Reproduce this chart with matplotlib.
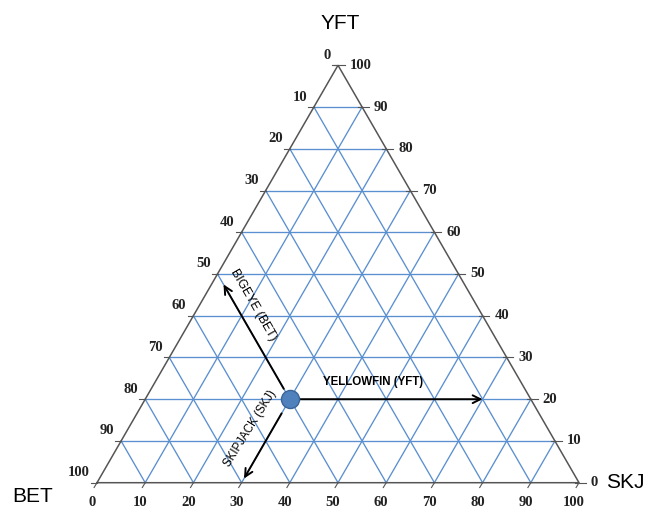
import numpy as np
import matplotlib
matplotlib.use("Agg")
import matplotlib.pyplot as plt

# -------------------- Data --------------------
corner_labels = ["BET", "SKJ", "YFT"]          # bottom-left, bottom-right, top
tick_values = [0, 10, 20, 30, 40, 50, 60, 70, 80, 90, 100]
grid_values = [10, 20, 30, 40, 50, 60, 70, 80, 90]

# example sample (percent): skipjack, yellowfin, bigeye
sample_skj, sample_yft, sample_bet = 30, 20, 50

# arrows (start -> end) in (skj, yft) percent
arrow_bet = ((27.5, 22.5), (2.5, 47.5))
arrow_skj = ((30.0, 16.6), (30.0, 1.0))
arrow_yft = ((30.0, 20.0), (70.0, 20.0))
arrow_texts = ["BIGEYE (BET)", "SKIPJACK (SKJ)", "YELLOWFIN (YFT)"]

GRID_C = "#5a8fd0"
EDGE_C = "#555555"
H = np.sqrt(3) / 2


def tern(skj, yft):
    """percent (skj, yft) -> cartesian in unit triangle"""
    skj = np.asarray(skj, float)
    yft = np.asarray(yft, float)
    return (skj + yft / 2) / 100.0, yft / 100.0 * H


# -------------------- Figure --------------------
fig = plt.figure(figsize=(6.46, 5.11), dpi=100)
ax = fig.add_axes([0, 0, 1, 1])
# 482 px per unit, BL vertex at pixel (97, 482.7)
ax.set_xlim(-97 / 482, (646 - 97) / 482)
ax.set_ylim((482.7 - 511) / 482, 482.7 / 482)
ax.axis("off")

# grid lines
for v in grid_values:
    # constant YFT
    x, y = tern([0, 100 - v], [v, v])
    ax.plot(x, y, color=GRID_C, lw=0.95, zorder=1)
    # constant SKJ
    x, y = tern([v, v], [0, 100 - v])
    ax.plot(x, y, color=GRID_C, lw=0.95, zorder=1)
    # constant BET
    x, y = tern([100 - v, 0], [0, 100 - v])
    ax.plot(x, y, color=GRID_C, lw=0.95, zorder=1)

# triangle outline
x, y = tern([0, 100, 0, 0], [0, 0, 100, 0])
ax.plot(x, y, color=EDGE_C, lw=1.1, zorder=2, solid_joinstyle="miter")

serif = dict(family="Liberation Serif", fontweight="bold", fontsize=10.5,
             color="#222222")

for v in tick_values:
    # bottom axis: SKJ
    px, py = tern(v, 0)
    ax.plot([px, px - 0.006], [py, py - 0.01], color=EDGE_C, lw=0.8, zorder=2)
    ax.annotate(str(v), (px, py), xytext=(-3.6, -14.4), textcoords="offset points",
                ha="center", va="center", **serif)
    # left axis: BET
    px, py = tern(0, 100 - v)
    ax.plot([px, px - 0.012], [py, py], color=EDGE_C, lw=0.8, zorder=2)
    ax.annotate(str(v), (px, py), xytext=(-5, 7.2), textcoords="offset points",
                ha="right", va="center", **serif)
    # right axis: YFT
    px, py = tern(100 - v, v)
    ax.plot([px - 0.008, px + 0.014], [py, py], color=EDGE_C, lw=0.8, zorder=2)
    ax.annotate(str(v), (px, py), xytext=(8.6, 0), textcoords="offset points",
                ha="left", va="center", **serif)

# corner labels
sans = dict(family="Liberation Sans", fontsize=15, color="black")
ax.annotate(corner_labels[0], tern(0, 0), xytext=(-46, -10), textcoords="offset points",
            ha="center", va="center", **sans)
ax.annotate(corner_labels[1], tern(100, 0), xytext=(33, 0), textcoords="offset points",
            ha="center", va="center", **sans)
ax.annotate(corner_labels[2], tern(0, 100), xytext=(1.4, 30), textcoords="offset points",
            ha="center", va="center", **sans)

# arrows
aprops = dict(arrowstyle="->", color="black", lw=1.4, mutation_scale=14,
              shrinkA=0, shrinkB=0)
for (s, e) in (arrow_bet, arrow_skj, arrow_yft):
    ax.annotate("", xy=tern(*e), xytext=tern(*s), arrowprops=aprops, zorder=3)

# sample point
sx, sy = tern(sample_skj, sample_yft)
ax.plot(sx, sy, "o", ms=13, mfc="#4f81bd", mec="#3a6496", mew=1.0, zorder=4)

# arrow labels
tx, ty = tern(sample_skj, sample_yft)
lab = dict(family="Liberation Sans", color="black")
ax.text(tx + (376.7 - 293.3) / 482, ty + (400 - 383) / 482, arrow_texts[2],
        ha="center", va="center", fontsize=8.3, fontweight="bold", **lab)
ax.text(tx + (257 - 293.3) / 482, ty + (400 - 306) / 482, arrow_texts[0],
        ha="center", va="center", fontsize=8.8, rotation=-60,
        rotation_mode="anchor", **lab)
ax.text(tx + (254 - 293.3) / 482, ty + (400 - 429) / 482, arrow_texts[1],
        ha="center", va="center", fontsize=8.3, rotation=58,
        rotation_mode="anchor", **lab)

fig.savefig("out.png", dpi=100)
